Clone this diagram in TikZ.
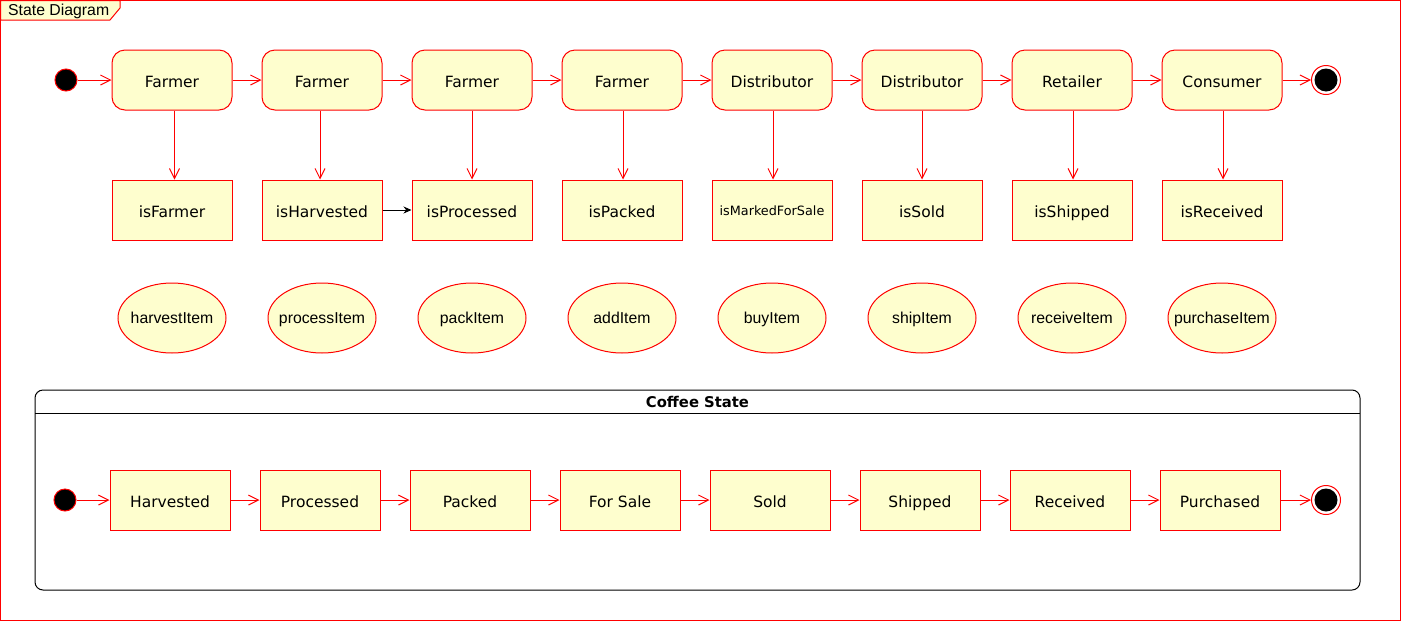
\documentclass[tikz,border=0pt]{standalone}
\usepackage{fontspec}
\setmainfont{DejaVu Sans}
\newfontfamily\arialf{Liberation Sans}
\usetikzlibrary{arrows.meta,shapes.geometric}
\definecolor{umlfill}{HTML}{FEFECE}
\tikzset{
  x=1pt,y=-1pt,
  redline/.style={draw=red,line width=1pt},
  boxtext/.style={text height=14.2pt,text depth=0pt,font=\fontsize{15.5}{18}\selectfont},
  actor/.style={redline,fill=umlfill,rounded corners=13pt,minimum width=120pt,minimum height=60pt,inner sep=0pt,boxtext},
  flagbox/.style={redline,fill=umlfill,minimum width=120pt,minimum height=60pt,inner sep=0pt,boxtext},
  statebox/.style={redline,fill=umlfill,minimum width=120pt,minimum height=60pt,inner sep=0pt,boxtext},
  fnell/.style={redline,fill=umlfill,ellipse,minimum width=108pt,minimum height=70pt,inner sep=0pt,text height=11pt,text depth=0pt,font=\arialf\fontsize{15.8}{18}\selectfont},
  startdot/.style={circle,draw=red,line width=1pt,fill=black,minimum size=22pt,inner sep=0pt},
  enddot/.style={circle,draw=red,line width=1pt,fill=white,minimum size=29pt,inner sep=0pt,
    path picture={\fill[black] (path picture bounding box.center) circle[radius=11.5pt];}},
  flow/.style={red,line width=1pt,-{Straight Barb[length=10pt,width=10pt,line width=1pt]}},
  blackflow/.style={black,line width=1pt,-{Stealth[length=8pt,width=7pt]}},
}
\begin{document}
\begin{tikzpicture}
\useasboundingbox (0,0) rectangle (1401,622);
% outer frame
\draw[red,line width=1pt] (0.5,0.5) rectangle (1400,620.5);
\draw[red,line width=1pt,fill=umlfill] (0.5,0.5) -- (0.5,20) -- (110,20) -- (120,8) -- (120,0.5) -- cycle;
\node[anchor=base west,font=\arialf\fontsize{15.8}{18}\selectfont,inner sep=0pt] (title) at (8,15.5) {State Diagram};

% top row
\node[startdot] (s0) at (66,80) {};
\foreach \i/\lab in {1/Farmer,2/Farmer,3/Farmer,4/Farmer,5/Distributor,6/Distributor,7/Retailer,8/Consumer}{
  \node[actor] (a\i) at ({172+150*(\i-1)},80) {\lab};
}
\node[enddot] (e0) at (1326,80) {};
\draw[flow] (s0) -- (a1);
\foreach \i [evaluate=\i as \j using int(\i+1)] in {1,...,7}{
  \draw[flow] (a\i) -- (a\j);
}
\draw[flow] (a8) -- (e0);

% flags
\foreach \i/\lab in {1/isFarmer,2/isHarvested,3/isProcessed,4/isPacked,6/isSold,7/isShipped,8/isReceived}{
  \node[flagbox] (f\i) at ({172+150*(\i-1)},210) {\lab};
}
\node[flagbox,font=\fontsize{12.8}{15}\selectfont,text height=11pt] (f5) at (772,210) {isMarkedForSale};
\foreach \i/\dx in {1/2.5,2/-2,3/0,4/1,5/1,6/0,7/1,8/1}{
  \draw[flow] ([xshift=\dx pt]a\i.south) -- ([xshift=\dx pt]f\i.north);
}
\draw[blackflow] (f2) -- (f3);

% functions
\foreach \i/\lab in {1/harvestItem,2/processItem,3/packItem,4/addItem,5/buyItem,6/shipItem,7/receiveItem,8/purchaseItem}{
  \node[fnell] (g\i) at ({172+150*(\i-1)},318) {\makebox[0pt]{\lab}};
}

% Coffee State composite
\draw[black,line width=1pt,rounded corners=8pt] (35,390) rectangle (1360,590);
\draw[black,line width=1pt] (35,413) -- (1360,413);
\node[font=\bfseries\fontsize{14.8}{17}\selectfont,inner sep=0pt,text height=11pt,text depth=0pt] (ct) at (697.5,402) {Coffee State};
\node[startdot] (s1) at (65,500) {};
\foreach \i/\lab in {1/Harvested,2/Processed,3/Packed,4/For Sale,5/Sold,6/Shipped,7/Received,8/Purchased}{
  \node[statebox] (c\i) at ({170+150*(\i-1)},500) {\lab};
}
\node[enddot] (e1) at (1326,500) {};
\draw[flow] (s1) -- (c1);
\foreach \i [evaluate=\i as \j using int(\i+1)] in {1,...,7}{
  \draw[flow] (c\i) -- (c\j);
}
\draw[flow] (c8) -- (e1);
\end{tikzpicture}
\end{document}
